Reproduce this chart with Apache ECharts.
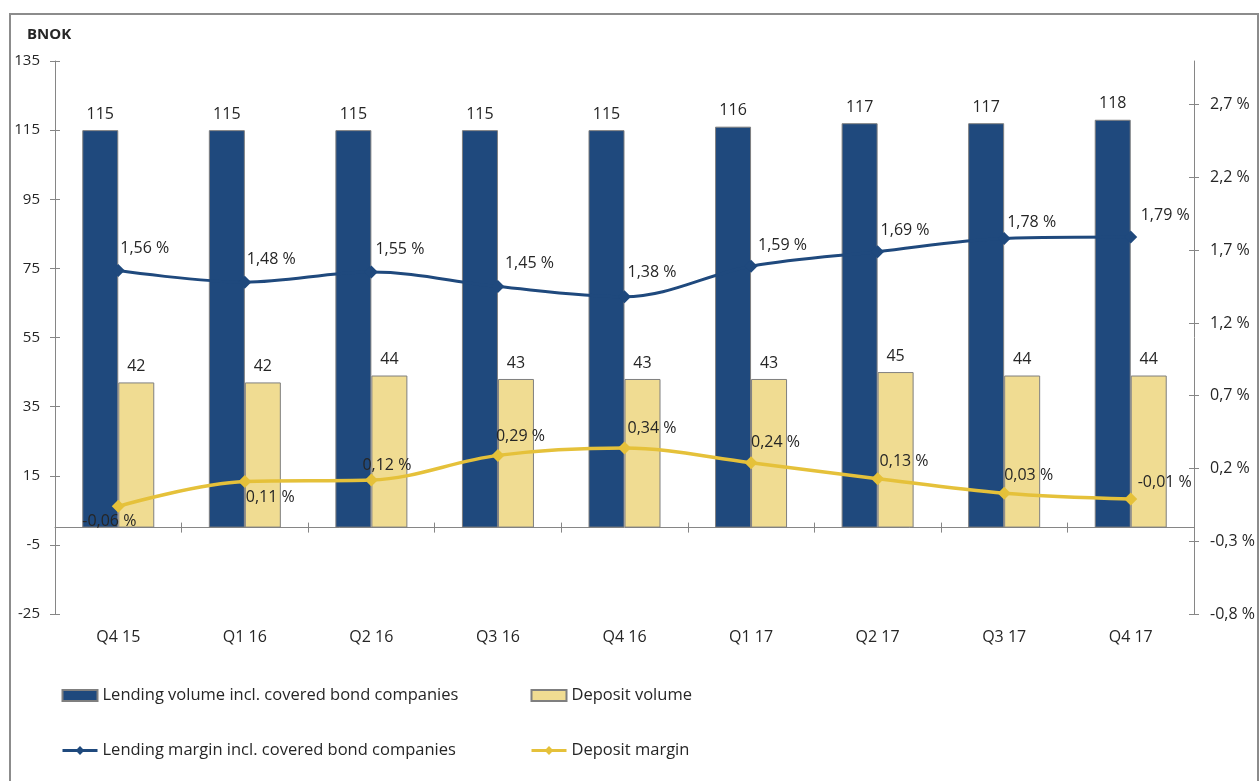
<!DOCTYPE html>
<html>
<head>
<meta charset="utf-8">
<script src="https://cdn.jsdelivr.net/npm/echarts@6/dist/echarts.min.js"></script>
<style>
  html, body { margin: 0; padding: 0; background: #ffffff; }
  #chart { width: 1259px; height: 781px; }
</style>
</head>
<body>
<div id="chart"></div>
<script>
// Quarterly volumes (BNOK) and margins (%)
const categories = ['Q4 15', 'Q1 16', 'Q2 16', 'Q3 16', 'Q4 16', 'Q1 17', 'Q2 17', 'Q3 17', 'Q4 17'];
const lendingVolume = [115, 115, 115, 115, 115, 116, 117, 117, 118];
const depositVolume = [42, 42, 44, 43, 43, 43, 45, 44, 44];
const lendingMargin = [1.56, 1.48, 1.55, 1.45, 1.38, 1.59, 1.69, 1.78, 1.79];
const depositMargin = [-0.06, 0.11, 0.12, 0.29, 0.34, 0.24, 0.13, 0.03, -0.01];

// Axis scales
const leftMin = -25, leftMax = 135, leftStep = 20;
const rightMin = -0.8, rightMax = 3.0, rightStep = 0.5;
const rightTicks = [-0.8, -0.3, 0.2, 0.7, 1.2, 1.7, 2.2, 2.7];

const seriesNames = [
  'Lending volume incl. covered bond companies',
  'Deposit volume',
  'Lending margin incl. covered bond companies',
  'Deposit margin'
];

// Label placement for each margin point: [dx, dy] from the marker centre
const lendingLabelShift = [[2, -22], [2, -23], [4, -23], [7, -23], [3, -24], [7, -21], [3, -21], [3, -16], [10, -22]];
const depositLabelShift = [[-36, 15], [1, 16], [-9, -15], [-2, -19], [3, -20], [0, -20], [2, -17], [0, -18], [7, -17]];

const FONT = '"Open Sans", "DejaVu Sans", sans-serif';
const TEXT = '#262626';
const GRAY = '#868686';
const BLUE = '#1F497D';
const SAND = '#F0DC92';
const GOLD = '#E5C13A';

const pct = (v, d) => v.toFixed(d).replace('.', ',') + ' %';

function marginData(values, shifts) {
  return values.map((v, i) => ({
    value: v,
    label: { offset: shifts[i] }
  }));
}

const legendBase = {
  orient: 'vertical', top: 687, itemGap: 38, padding: 0,
  itemWidth: 35, itemHeight: 11,
  lineStyle: { width: 3 },
  textStyle: { fontSize: 16.5, color: TEXT, fontFamily: FONT }
};

const chart = echarts.init(document.getElementById('chart'), null, { renderer: 'canvas' });

chart.setOption({
  animation: false,
  backgroundColor: '#ffffff',
  textStyle: { fontFamily: FONT, color: TEXT },
  graphic: [
    {
      type: 'rect',
      shape: { x: 10, y: 14, width: 1248, height: 800 },
      style: { fill: 'none', stroke: '#8c8c8c', lineWidth: 2 },
      silent: true
    },
    {
      type: 'text',
      left: 27,
      top: 27,
      style: { text: 'BNOK', font: 'bold 15px ' + FONT, fill: TEXT }
    }
  ],
  grid: { left: 55, right: 65, top: 61, bottom: 167, containLabel: false },
  legend: [
    Object.assign({}, legendBase, {
      left: 61,
      data: [{ name: seriesNames[0], icon: 'rect' }, { name: seriesNames[2] }]
    }),
    Object.assign({}, legendBase, {
      left: 530,
      data: [{ name: seriesNames[1], icon: 'rect' }, { name: seriesNames[3] }]
    })
  ],
  xAxis: [
    {
      // category labels along the bottom of the plot
      type: 'category', data: categories, position: 'bottom',
      axisLine: { show: false, onZero: false },
      axisTick: { show: false },
      axisLabel: { fontSize: 16, color: TEXT, margin: 15, fontFamily: FONT }
    },
    {
      // zero line with outward ticks
      type: 'category', data: categories, position: 'bottom',
      axisLine: { show: true, onZero: true, onZeroAxisIndex: 0, lineStyle: { color: GRAY, width: 1 } },
      axisTick: { show: true, length: 5, lineStyle: { color: GRAY } },
      axisLabel: { show: false }
    },
    {
      // inward half of the crossing ticks
      type: 'category', data: categories, position: 'bottom',
      axisLine: { show: false, onZero: true, onZeroAxisIndex: 0 },
      axisTick: { show: true, inside: true, length: 5, lineStyle: { color: GRAY } },
      axisLabel: { show: false }
    }
  ],
  yAxis: [
    {
      type: 'value', position: 'left',
      min: leftMin, max: leftMax, interval: leftStep,
      axisLine: { show: true, lineStyle: { color: GRAY } },
      axisTick: { show: true, length: 5, lineStyle: { color: GRAY } },
      axisLabel: { fontSize: 15, color: TEXT, margin: 15, fontFamily: FONT },
      splitLine: { show: false }
    },
    {
      type: 'value', position: 'right',
      min: rightMin, max: rightMax, interval: rightStep,
      axisLine: { show: true, lineStyle: { color: GRAY } },
      axisTick: { show: true, length: 5, customValues: rightTicks, lineStyle: { color: GRAY } },
      axisLabel: {
        fontSize: 16, color: TEXT, margin: 16, fontFamily: FONT,
        customValues: rightTicks,
        formatter: v => pct(v, 1)
      },
      splitLine: { show: false }
    },
    {
      type: 'value', position: 'left',
      min: leftMin, max: leftMax, interval: leftStep,
      axisLine: { show: false },
      axisTick: { show: true, inside: true, length: 5, lineStyle: { color: GRAY } },
      axisLabel: { show: false },
      splitLine: { show: false }
    },
    {
      type: 'value', position: 'right',
      min: rightMin, max: rightMax, interval: rightStep,
      axisLine: { show: false },
      axisTick: { show: true, inside: true, length: 5, customValues: rightTicks, lineStyle: { color: GRAY } },
      axisLabel: { show: false },
      splitLine: { show: false }
    }
  ],
  series: [
    {
      name: seriesNames[0], type: 'bar', xAxisIndex: 0, yAxisIndex: 0,
      data: lendingVolume, barWidth: 36, barGap: '0%',
      itemStyle: { color: BLUE, borderColor: '#7f7f7f', borderWidth: 1 },
      label: { show: true, position: 'top', distance: 8, fontSize: 16, color: TEXT, fontFamily: FONT }
    },
    {
      name: seriesNames[1], type: 'bar', xAxisIndex: 0, yAxisIndex: 0,
      data: depositVolume, barWidth: 36, barGap: '0%',
      itemStyle: { color: SAND, borderColor: '#7f7f7f', borderWidth: 1 },
      label: { show: true, position: 'top', distance: 8, fontSize: 16, color: TEXT, fontFamily: FONT }
    },
    {
      name: seriesNames[2], type: 'line', xAxisIndex: 0, yAxisIndex: 1,
      data: marginData(lendingMargin, lendingLabelShift),
      smooth: 0.35, symbol: 'diamond', symbolSize: 13,
      lineStyle: { color: BLUE, width: 3 },
      itemStyle: { color: BLUE },
      label: {
        show: true, position: 'inside', align: 'left', verticalAlign: 'middle',
        fontSize: 16, color: TEXT, fontFamily: FONT,
        formatter: p => pct(p.value, 2)
      },
      z: 5
    },
    {
      name: seriesNames[3], type: 'line', xAxisIndex: 0, yAxisIndex: 1,
      data: marginData(depositMargin, depositLabelShift),
      smooth: 0.35, symbol: 'diamond', symbolSize: 13,
      lineStyle: { color: GOLD, width: 3.5 },
      itemStyle: { color: GOLD },
      label: {
        show: true, position: 'inside', align: 'left', verticalAlign: 'middle',
        fontSize: 16, color: TEXT, fontFamily: FONT,
        formatter: p => pct(p.value, 2)
      },
      z: 5
    }
  ]
});
</script>
</body>
</html>
